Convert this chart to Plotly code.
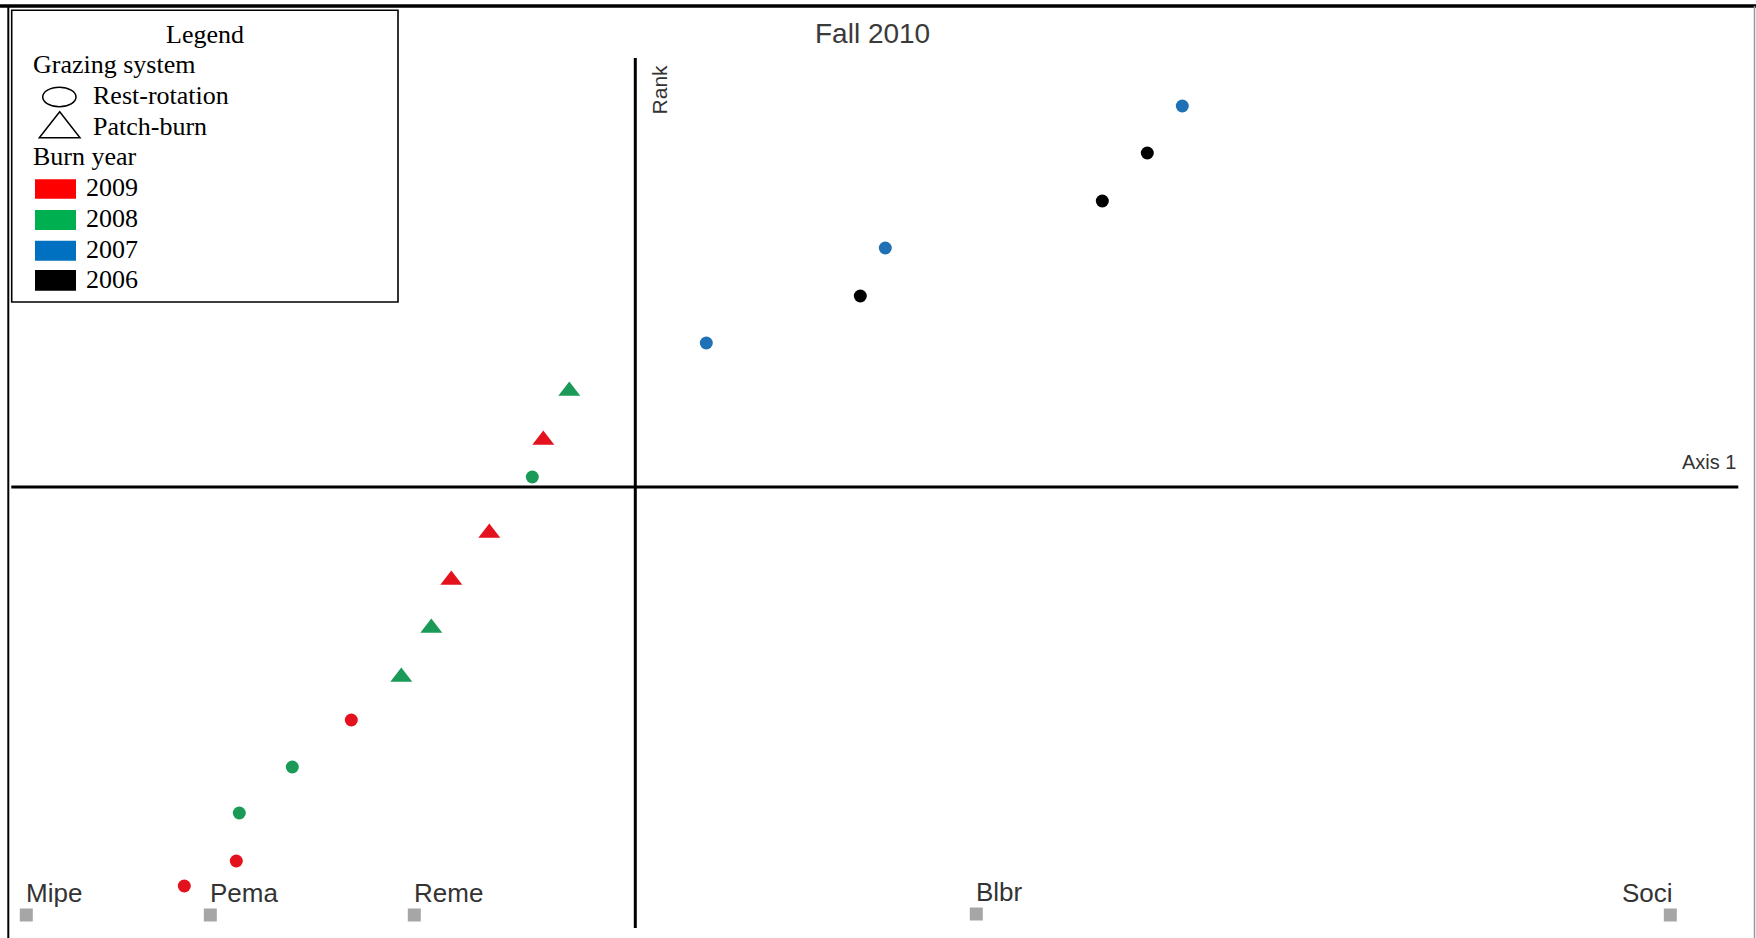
import plotly.graph_objects as go

# ---------------- data (ordination scores) ----------------
rr_2009_x = [-4.51, -3.99, -2.84]
rr_2009_y = [-3.99, -3.74, -2.33]
rr_2008_x = [-3.96, -3.43, -1.03]
rr_2008_y = [-3.26, -2.80, 0.10]
rr_2007_x = [0.71, 2.50, 5.47]
rr_2007_y = [1.44, 2.39, 3.81]
rr_2006_x = [2.25, 4.67, 5.12]
rr_2006_y = [1.91, 2.86, 3.34]

pb_2009_x = [-0.92, -1.46, -1.84]
pb_2009_y = [0.47, -0.46, -0.93]
pb_2008_x = [-0.66, -2.04, -2.34]
pb_2008_y = [0.96, -1.41, -1.90]

species = ["Mipe", "Pema", "Reme", "Blbr", "Soci"]
species_x = [-6.09, -4.25, -2.21, 3.41, 10.35]
species_y = [-4.28, -4.28, -4.28, -4.27, -4.28]

legend_years = ["2009", "2008", "2007", "2006"]

# ---------------- styling ----------------
W, H = 1756, 938
RED, GREEN, BLUE, BLACK = "#e3121c", "#1a9a56", "#1f70b4", "#000000"
LEG_COLORS = ["#ff0000", "#00b050", "#0070c0", "#000000"]
SERIF = "Liberation Serif, Times New Roman, serif"
SANS = "Liberation Sans, Arial, sans-serif"


def px(x):
    return x / W


def py(y):
    return 1 - y / H


fig = go.Figure()

def add_pts(xs, ys, color, symbol, size):
    fig.add_trace(go.Scatter(x=xs, y=ys, mode="markers",
                             marker=dict(color=color, symbol=symbol, size=size,
                                         line=dict(width=0)),
                             showlegend=False, hoverinfo="skip"))

add_pts(rr_2009_x, rr_2009_y, RED, "circle", 13)
add_pts(rr_2008_x, rr_2008_y, GREEN, "circle", 13)
add_pts(rr_2007_x, rr_2007_y, BLUE, "circle", 13)
add_pts(rr_2006_x, rr_2006_y, BLACK, "circle", 13)
add_pts(pb_2009_x, pb_2009_y, RED, "triangle-up", 19)
add_pts(pb_2008_x, pb_2008_y, GREEN, "triangle-up", 19)

# species
fig.add_trace(go.Scatter(x=species_x, y=species_y, mode="markers",
                         marker=dict(color="#a6a6a6", symbol="square", size=13,
                                     line=dict(width=0)),
                         showlegend=False, hoverinfo="skip"))

annotations = []
for i, (name, sx, sy) in enumerate(zip(species, species_x, species_y)):
    last = i == len(species) - 1
    annotations.append(dict(x=sx, y=sy, xref="x", yref="y", text=name, showarrow=False,
                            xanchor="right" if last else "left", yanchor="middle",
                            xshift=4 if last else -1, yshift=22, borderpad=0,
                            font=dict(family=SANS, size=26, color="#333333")))

# axis labels / title
annotations.append(dict(x=px(872), y=py(33.6), xref="paper", yref="paper", text="Fall 2010",
                        showarrow=False, xanchor="center", yanchor="middle", borderpad=0,
                        font=dict(family=SANS, size=28, color="#3a3a3a")))
annotations.append(dict(x=px(659.4), y=py(89), xref="paper", yref="paper", text="Rank",
                        showarrow=False, xanchor="center", yanchor="middle", textangle=-90,
                        borderpad=0, font=dict(family=SANS, size=21, color="#333333")))
annotations.append(dict(x=px(1709), y=py(462.4), xref="paper", yref="paper", text="Axis 1",
                        showarrow=False, xanchor="center", yanchor="middle", borderpad=0,
                        font=dict(family=SANS, size=20, color="#333333")))

# legend box texts
def leg_text(txt, x, baseline, anchor="left"):
    annotations.append(dict(x=px(x), y=py(baseline - 0.3375 * 26), xref="paper", yref="paper",
                            text=txt, showarrow=False, xanchor=anchor, yanchor="middle",
                            borderpad=0, font=dict(family=SERIF, size=26, color="black")))

leg_text("Legend", 204.5, 43.3, "center")
leg_text("Grazing system", 31.7, 73.3)
leg_text("Rest-rotation", 92.3, 104.3)
leg_text("Patch-burn", 92.3, 135)
leg_text("Burn year", 31.7, 165.7)
year_baselines = [196.7, 227.7, 258.3, 288.3]
year_rects = [(179.3, 198.7), (210, 230), (240.7, 260.7), (270, 290.7)]
for yr, b in zip(legend_years, year_baselines):
    leg_text(yr, 85, b)

shapes = []
# ordination axes
shapes.append(dict(type="line", xref="x", yref="y", x0=-6.24, x1=11.03, y0=0, y1=0,
                   line=dict(color="black", width=3)))
shapes.append(dict(type="line", xref="x", yref="y", x0=0, x1=0, y0=4.29, y1=-4.41,
                   line=dict(color="black", width=3)))
# frame lines
shapes.append(dict(type="line", xref="paper", yref="paper", x0=0, x1=1, y0=py(6), y1=py(6),
                   line=dict(color="black", width=3.5)))
shapes.append(dict(type="line", xref="paper", yref="paper", x0=px(8.3), x1=px(8.3), y0=py(6), y1=0,
                   line=dict(color="black", width=2)))
shapes.append(dict(type="line", xref="paper", yref="paper", x0=px(1754.5), x1=px(1754.5), y0=py(6), y1=0,
                   line=dict(color="#999999", width=1.5)))
# legend box
shapes.append(dict(type="rect", xref="paper", yref="paper", x0=px(11.7), x1=px(398), y0=py(10.3), y1=py(302),
                   line=dict(color="black", width=1.6), fillcolor="white", layer="below"))
# legend symbols
shapes.append(dict(type="circle", xref="paper", yref="paper", x0=px(42.7), x1=px(76), y0=py(87.3), y1=py(106.7),
                   line=dict(color="black", width=1.5)))
shapes.append(dict(type="path", xref="paper", yref="paper",
                   path=f"M {px(39.3)} {py(137.7)} L {px(59.7)} {py(111.7)} L {px(80)} {py(137.7)} Z",
                   line=dict(color="black", width=1.5)))
for col, (y0, y1) in zip(LEG_COLORS, year_rects):
    shapes.append(dict(type="rect", xref="paper", yref="paper", x0=px(35), x1=px(76), y0=py(y0), y1=py(y1),
                       line=dict(width=0), fillcolor=col))

fig.update_layout(
    width=W, height=H, autosize=False,
    margin=dict(l=0, r=0, t=0, b=0, pad=0),
    paper_bgcolor="white", plot_bgcolor="white",
    xaxis=dict(range=[-6.353, 11.207], visible=False, fixedrange=True),
    yaxis=dict(range=[-4.51, 4.87], visible=False, fixedrange=True),
    shapes=shapes, annotations=annotations, showlegend=False,
)

fig.write_html("out.html", config={"displayModeBar": False},
               post_script="document.body.style.margin='0';document.body.style.overflow='hidden';")
